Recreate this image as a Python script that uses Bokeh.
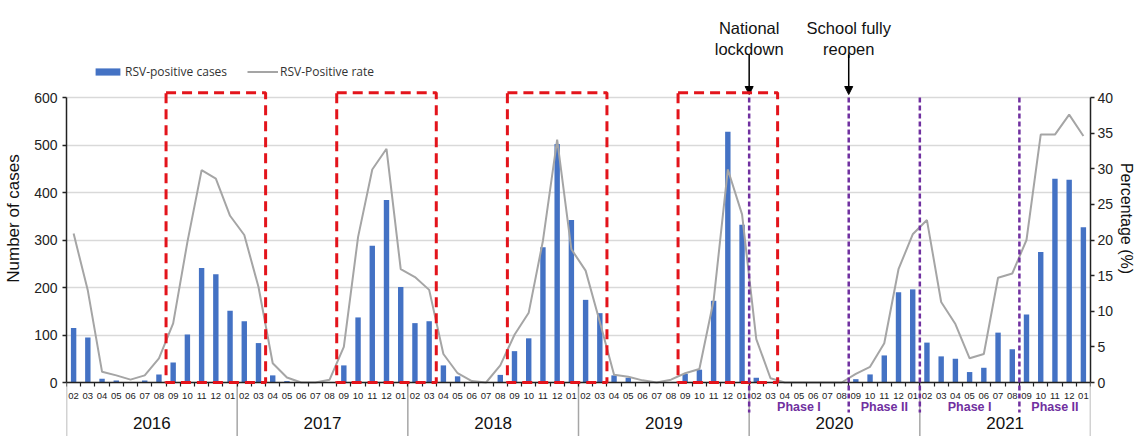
import numpy as np
from bokeh.plotting import figure
from bokeh.models import (Range1d, LinearAxis, FixedTicker, Legend, LegendItem,
                          Arrow, NormalHead)
from bokeh.core.properties import value
from bokeh.embed import file_html
from bokeh.resources import INLINE

# ---------------- data ----------------
years = ["2016", "2017", "2018", "2019", "2020", "2021"]
month_ticks = ["02", "03", "04", "05", "06", "07", "08", "09", "10", "11", "12", "01"]

cases_2016 = [115, 95, 8, 4, 1, 4, 17, 42, 101, 241, 228, 151]
cases_2017 = [129, 83, 15, 3, 0, 0, 1, 36, 137, 288, 384, 201]
cases_2018 = [125, 129, 36, 13, 0, 0, 16, 66, 93, 285, 502, 342]
cases_2019 = [174, 146, 15, 10, 0, 0, 1, 18, 27, 172, 528, 332]
cases_2020 = [10, 1, 0, 0, 0, 0, 0, 7, 17, 57, 190, 196]
cases_2021 = [84, 55, 50, 22, 31, 105, 70, 143, 275, 429, 427, 327]

rate_2016 = [20.9, 12.9, 1.5, 1.0, 0.4, 1.0, 3.4, 8.3, 19.7, 29.8, 28.6, 23.4]
rate_2017 = [20.7, 13.4, 2.7, 0.7, 0.0, 0.0, 0.4, 5.0, 20.4, 29.9, 32.8, 15.9]
rate_2018 = [14.8, 13.0, 4.0, 1.3, 0.2, 0.0, 2.4, 6.7, 9.8, 19.9, 34.1, 18.7]
rate_2019 = [15.7, 8.5, 1.1, 0.8, 0.3, 0.0, 0.4, 1.3, 1.9, 11.5, 29.9, 23.6]
rate_2020 = [6.1, 0.6, 0.0, 0.0, 0.0, 0.0, 0.0, 1.2, 2.2, 5.5, 15.9, 20.8]
rate_2021 = [22.8, 11.3, 8.2, 3.4, 4.0, 14.7, 15.3, 20.0, 34.8, 34.8, 37.6, 34.6]

seasons = [("2016-09", "2017-03"), ("2017-09", "2018-03"),
           ("2018-09", "2019-03"), ("2019-09", "2020-03")]
events = ["2020-02", "2020-09", "2021-02", "2021-09"]
event_notes_line1 = ["National", "School fully"]
event_notes_line2 = ["lockdown", "reopen"]
phases = ["Phase I", "Phase II", "Phase I", "Phase II"]

# ---------------- assemble ----------------
cases = cases_2016 + cases_2017 + cases_2018 + cases_2019 + cases_2020 + cases_2021
rate = rate_2016 + rate_2017 + rate_2018 + rate_2019 + rate_2020 + rate_2021

keys, labels = [], []
for y in years:
    for m in month_ticks:
        cal = int(y) + (1 if m == "01" else 0)
        keys.append(f"{cal}-{m}")
        labels.append(m)
idx = {k: i for i, k in enumerate(keys)}
n = len(keys)
xc = [i + 0.5 for i in range(n)]

# ---------------- layout (pixels) ----------------
W, H = 1138, 436
PAGE_OFF = 0
Y0_PAGE, Y600_PAGE = 382, 97
scale = (Y0_PAGE - Y600_PAGE) / 600.0


def yd(page_y):
    return (Y0_PAGE - page_y) / scale


y_start = yd(PAGE_OFF + H)
y_end = yd(PAGE_OFF)
pscale = (Y0_PAGE - Y600_PAGE) / 40.0
p_start = -(PAGE_OFF + H - Y0_PAGE) / pscale
p_end = (Y0_PAGE - PAGE_OFF) / pscale

FONT = "Liberation Sans"
BLUE = "#4472C4"
GRAY = "#A5A5A5"
RED = "#E3141B"
PURPLE = "#7030A0"

p = figure(width=W, height=H, x_range=Range1d(0, n), y_range=Range1d(y_start, y_end),
           output_backend="svg", toolbar_location=None, x_axis_location=None,
           min_border_left=66, min_border_right=46, min_border_top=0, min_border_bottom=0,
           outline_line_color=None, background_fill_color="white")
p.xgrid.visible = False

ya = p.yaxis[0]
ya.ticker = FixedTicker(ticks=list(range(0, 601, 100)))
ya.bounds = (0, 600)
ya.axis_label = "Number of cases"
ya.axis_label_text_font = FONT
ya.axis_label_text_font_size = "17px"
ya.axis_label_text_font_style = "normal"
ya.axis_label_text_color = "#111111"
ya.axis_label_standoff = 8
ya.major_label_text_font = FONT
ya.major_label_text_font_size = "14px"
ya.major_label_text_color = "#222222"
ya.major_label_standoff = 5
ya.major_tick_out = 4
ya.major_tick_in = 0
ya.minor_tick_line_color = None
ya.axis_line_color = "#222222"
ya.axis_line_width = 1.5
ya.major_tick_line_color = "#222222"
ya.major_tick_line_width = 1.5

p.ygrid.ticker = FixedTicker(ticks=list(range(0, 601, 100)))
p.ygrid.grid_line_color = "#D9D9D9"
p.ygrid.grid_line_width = 1.5

p.extra_y_ranges = {"pct": Range1d(p_start, p_end)}
ra = LinearAxis(y_range_name="pct", ticker=FixedTicker(ticks=list(range(0, 41, 5))),
                bounds=(0, 40), axis_label="Percentage (%)")
ra.axis_label_text_font = FONT
ra.axis_label_text_font_size = "16px"
ra.axis_label_text_font_style = "normal"
ra.axis_label_text_color = "#111111"
ra.axis_label_standoff = 2
ra.major_label_text_font = FONT
ra.major_label_text_font_size = "14px"
ra.major_label_text_color = "#222222"
ra.major_label_standoff = 3
ra.major_tick_out = 4
ra.major_tick_in = 0
ra.minor_tick_line_color = None
ra.axis_line_color = "#222222"
ra.axis_line_width = 1.5
ra.major_tick_line_color = "#222222"
ra.major_tick_line_width = 1.5
p.add_layout(ra, "right")

xa = LinearAxis(fixed_location=0,
                ticker=FixedTicker(ticks=xc, minor_ticks=list(range(n + 1))),
                major_label_overrides={x: l for x, l in zip(xc, labels)})
xa.major_tick_out = 0
xa.major_tick_in = 0
xa.minor_tick_out = 4
xa.minor_tick_in = 0
xa.minor_tick_line_color = "#222222"
xa.minor_tick_line_width = 1.2
xa.axis_line_color = "#222222"
xa.axis_line_width = 1.5
xa.major_label_standoff = 6
xa.major_label_text_font = FONT
xa.major_label_text_font_size = "9.5px"
xa.major_label_text_color = "#222222"
p.add_layout(xa, "below")

# year separators below the axis
bounds_years = [i * len(month_ticks) for i in range(len(years) + 1)]
p.segment(x0=bounds_years, y0=0, x1=bounds_years, y1=y_start,
          line_color="#A6A6A6", line_width=1.5)

# bars & line
bars = p.vbar(x=xc, top=cases, width=0.38, fill_color=BLUE, line_color=None)
line = p.line(x=xc, y=rate, y_range_name="pct", line_color=GRAY, line_width=2)

# season boxes
s_left = [idx[a] for a, b in seasons]
s_right = [idx[b] + 1 for a, b in seasons]
p.quad(left=s_left, right=s_right, bottom=0, top=610, fill_color=None,
       line_color=RED, line_width=3, line_dash="10 6", level="overlay")

# event lines
ev_x = [idx[e] for e in events]
p.segment(x0=ev_x, y0=600, x1=ev_x, y1=yd(412), line_color=PURPLE,
          line_width=2.5, line_dash="5 3", level="overlay")

# phase labels
ph_edges = ev_x + [n]
ph_x = [(ph_edges[i] + ph_edges[i + 1]) / 2 for i in range(len(phases))]
p.text(x=ph_x, y=yd(406), text=phases, text_align="center", text_baseline="middle",
       text_font=value(FONT), text_font_size="12.5px", text_font_style="bold",
       text_color=PURPLE)

# year labels
yr_x = [i * len(month_ticks) + len(month_ticks) / 2 for i in range(len(years))]
p.text(x=yr_x, y=yd(422), text=years, text_align="center", text_baseline="middle",
       text_font=value(FONT), text_font_size="17px", text_color="#111111")

# event annotations
note_x = ev_x[:len(event_notes_line1)]
p.text(x=note_x, y=yd(27), text=event_notes_line1, text_align="center",
       text_baseline="alphabetic", text_font=value(FONT), text_font_size="16.5px",
       text_color="#111111")
p.text(x=note_x, y=yd(48), text=event_notes_line2, text_align="center",
       text_baseline="alphabetic", text_font=value(FONT), text_font_size="16.5px",
       text_color="#111111")
for ex in note_x:
    p.add_layout(Arrow(x_start=ex, y_start=yd(54), x_end=ex, y_end=yd(94),
                       line_color="black", line_width=1.5,
                       end=NormalHead(size=8, fill_color="black", line_color="black")))

legend = Legend(items=[LegendItem(label="RSV-positive cases", renderers=[bars]),
                       LegendItem(label="RSV-Positive rate", renderers=[line])],
                orientation="horizontal", location=(26, 356),
                glyph_width=31, glyph_height=9, label_height=9,
                label_text_font="Open Sans", label_text_font_size="12px",
                label_text_color="#333333", label_standoff=2, spacing=20,
                padding=0, margin=0, border_line_color=None, background_fill_alpha=0)
p.add_layout(legend)

open("out.html", "w").write(file_html(p, INLINE))
